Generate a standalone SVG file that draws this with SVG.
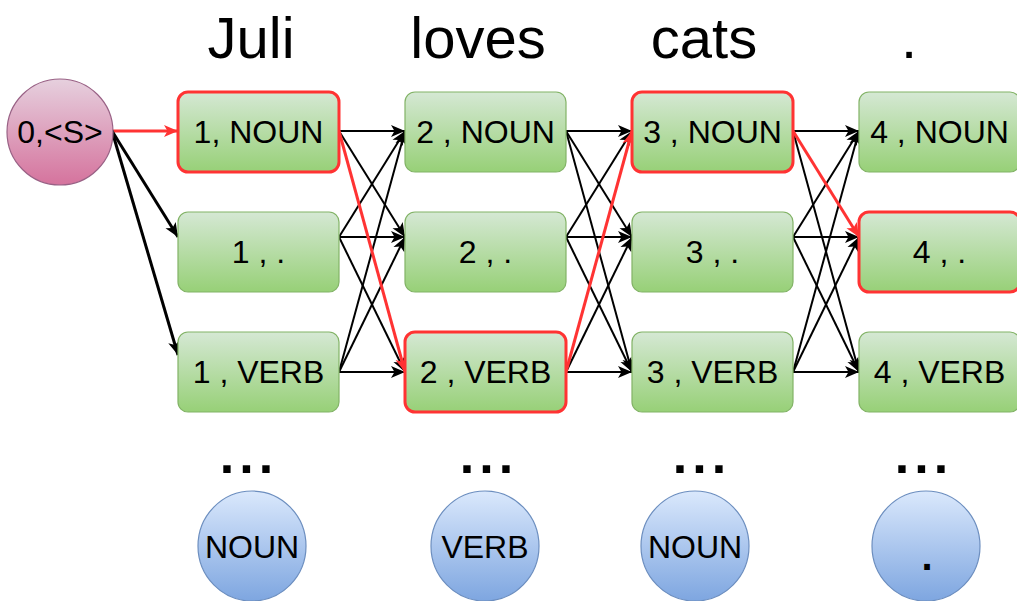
<svg xmlns="http://www.w3.org/2000/svg" width="1017" height="601" viewBox="0 0 1017 601">
<style>
.box{fill:url(#gG);stroke:#82b366;stroke-width:1.2}
.sel{fill:url(#gG);stroke:#ff3333;stroke-width:3}
.t{font-family:"Liberation Sans",Arial,sans-serif;font-size:32px;fill:#000;text-anchor:middle}
.h{font-family:"Liberation Sans",Arial,sans-serif;font-size:58px;fill:#000;text-anchor:middle}
.dots{font-family:"Liberation Sans",Arial,sans-serif;font-size:52px;font-weight:bold;fill:#000;text-anchor:middle;letter-spacing:5px}
.e{stroke:#000;stroke-width:2;fill:none;marker-end:url(#ab)}
.es{stroke:#000;stroke-width:3;fill:none;marker-end:url(#ab)}
.r{stroke:#ff3333;stroke-width:3;fill:none;marker-end:url(#ar)}
.blue{fill:url(#gB);stroke:#6c8ebf;stroke-width:1.2}
</style>
<defs>
<linearGradient id="gG" x1="0" y1="0" x2="0" y2="1"><stop offset="0" stop-color="#d5e8d4"/><stop offset="1" stop-color="#97d077"/></linearGradient>
<linearGradient id="gB" x1="0" y1="0" x2="0" y2="1"><stop offset="0" stop-color="#dae8fc"/><stop offset="1" stop-color="#7ea6e0"/></linearGradient>
<linearGradient id="gP" x1="0" y1="0" x2="0" y2="1"><stop offset="0" stop-color="#e6d0de"/><stop offset="1" stop-color="#d5739d"/></linearGradient>
<marker id="ab" markerUnits="userSpaceOnUse" markerWidth="16" markerHeight="14" refX="15" refY="7" orient="auto" viewBox="0 0 16 14"><path d="M1,1 L15,7 L1,13 L4.5,7 Z" fill="#000"/></marker>
<marker id="ar" markerUnits="userSpaceOnUse" markerWidth="16" markerHeight="14" refX="15" refY="7" orient="auto" viewBox="0 0 16 14"><path d="M1,1 L15,7 L1,13 L4.5,7 Z" fill="#ff3333"/></marker>
</defs>

<g id="headers">
<text class="h" x="251" y="58">Juli</text>
<text class="h" x="478" y="58">loves</text>
<text class="h" x="704" y="58">cats</text>
<text class="h" x="909" y="58">.</text>
</g>

<g id="connectors">
<line class="r" x1="112" y1="131" x2="178" y2="131"/>
<line class="es" x1="112" y1="131" x2="178" y2="237"/>
<line class="es" x1="112" y1="131" x2="178" y2="355"/>
<!-- col1 -> col2 -->
<line class="e" x1="339" y1="131" x2="405" y2="131"/>
<line class="e" x1="339" y1="131" x2="405" y2="237"/>
<line class="e" x1="339" y1="237" x2="405" y2="131"/>
<line class="e" x1="339" y1="237" x2="405" y2="237"/>
<line class="e" x1="339" y1="237" x2="405" y2="372"/>
<line class="e" x1="339" y1="372" x2="405" y2="131"/>
<line class="e" x1="339" y1="372" x2="405" y2="237"/>
<line class="e" x1="339" y1="372" x2="405" y2="372"/>
<!-- col2 -> col3 -->
<line class="e" x1="566" y1="131" x2="632" y2="131"/>
<line class="e" x1="566" y1="131" x2="632" y2="237"/>
<line class="e" x1="566" y1="131" x2="632" y2="372"/>
<line class="e" x1="566" y1="237" x2="632" y2="131"/>
<line class="e" x1="566" y1="237" x2="632" y2="237"/>
<line class="e" x1="566" y1="237" x2="632" y2="372"/>
<line class="e" x1="566" y1="372" x2="632" y2="237"/>
<line class="e" x1="566" y1="372" x2="632" y2="372"/>
<!-- col3 -> col4 -->
<line class="e" x1="793" y1="131" x2="859" y2="131"/>
<line class="e" x1="793" y1="131" x2="859" y2="372"/>
<line class="e" x1="793" y1="237" x2="859" y2="131"/>
<line class="e" x1="793" y1="237" x2="859" y2="237"/>
<line class="e" x1="793" y1="237" x2="859" y2="372"/>
<line class="e" x1="793" y1="372" x2="859" y2="131"/>
<line class="e" x1="793" y1="372" x2="859" y2="237"/>
<line class="e" x1="793" y1="372" x2="859" y2="372"/>
<!-- red path -->
<line class="r" x1="339" y1="131" x2="405" y2="372"/>
<line class="r" x1="566" y1="372" x2="632" y2="131"/>
<line class="r" x1="793" y1="131" x2="859" y2="237"/>
</g>

<g id="start"><circle cx="60" cy="132" r="53" fill="url(#gP)" stroke="#996185" stroke-width="1.2"/><text class="t" x="60" y="143">0,&lt;S&gt;</text></g>

<g id="n1noun"><rect class="sel" x="178" y="92" width="161" height="80" rx="10"/><text class="t" x="258.5" y="143">1, NOUN</text></g>
<g id="n1dot"><rect class="box" x="178" y="212" width="161" height="80" rx="10"/><text class="t" x="258.5" y="263">1 , .</text></g>
<g id="n1verb"><rect class="box" x="178" y="332" width="161" height="80" rx="10"/><text class="t" x="258.5" y="383">1 , VERB</text></g>

<g id="n2noun"><rect class="box" x="405" y="92" width="161" height="80" rx="10"/><text class="t" x="485.5" y="143">2 , NOUN</text></g>
<g id="n2dot"><rect class="box" x="405" y="212" width="161" height="80" rx="10"/><text class="t" x="485.5" y="263">2 , .</text></g>
<g id="n2verb"><rect class="sel" x="405" y="332" width="161" height="80" rx="10"/><text class="t" x="485.5" y="383">2 , VERB</text></g>

<g id="n3noun"><rect class="sel" x="632" y="92" width="161" height="80" rx="10"/><text class="t" x="712.5" y="143">3 , NOUN</text></g>
<g id="n3dot"><rect class="box" x="632" y="212" width="161" height="80" rx="10"/><text class="t" x="712.5" y="263">3 , .</text></g>
<g id="n3verb"><rect class="box" x="632" y="332" width="161" height="80" rx="10"/><text class="t" x="712.5" y="383">3 , VERB</text></g>

<g id="n4noun"><rect class="box" x="859" y="92" width="161" height="80" rx="10"/><text class="t" x="939.5" y="143">4 , NOUN</text></g>
<g id="n4dot"><rect class="sel" x="859" y="212" width="161" height="80" rx="10"/><text class="t" x="939.5" y="263">4 , .</text></g>
<g id="n4verb"><rect class="box" x="859" y="332" width="161" height="80" rx="10"/><text class="t" x="939.5" y="383">4 , VERB</text></g>

<g id="ellipsis">
<text class="dots" x="249" y="473">...</text>
<text class="dots" x="489" y="473">...</text>
<text class="dots" x="702" y="473">...</text>
<text class="dots" x="924" y="473">...</text>
</g>

<g id="tag1"><ellipse class="blue" cx="252" cy="546" rx="54" ry="55"/><text class="t" x="252" y="558">NOUN</text></g>
<g id="tag2"><ellipse class="blue" cx="485" cy="546" rx="54" ry="55"/><text class="t" x="485" y="558">VERB</text></g>
<g id="tag3"><ellipse class="blue" cx="695" cy="546" rx="54" ry="55"/><text class="t" x="695" y="558">NOUN</text></g>
<g id="tag4"><ellipse class="blue" cx="926" cy="546" rx="54" ry="55"/><text class="t" x="927" y="570" style="font-size:40px;font-weight:bold">.</text></g>
</svg>
